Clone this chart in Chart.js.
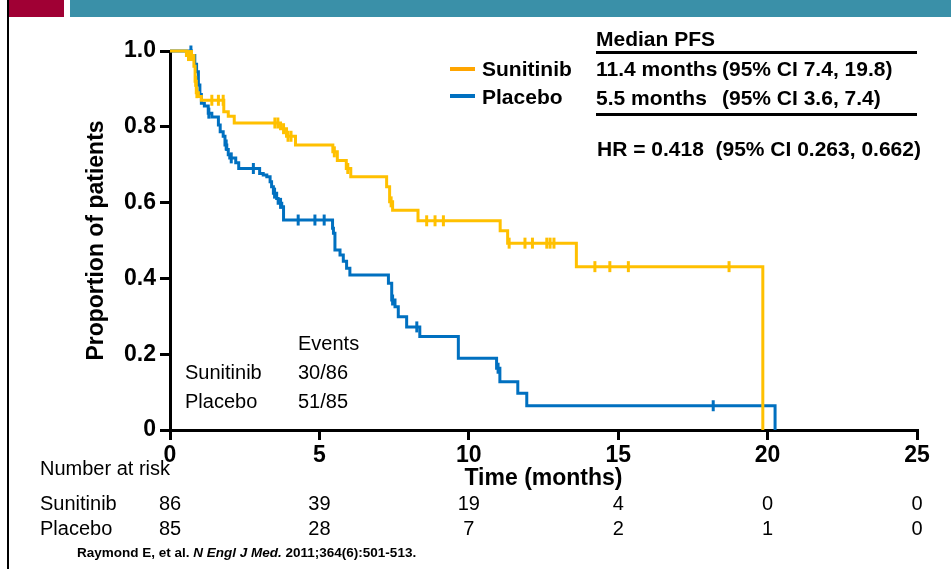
<!DOCTYPE html>
<html><head><meta charset="utf-8">
<script src="https://cdn.jsdelivr.net/npm/chart.js@4.4.0/dist/chart.umd.min.js"></script>
<style>
html,body{margin:0;padding:0;background:#fff;}
#wrap{position:relative;width:951px;height:569px;overflow:hidden;font-family:"Liberation Sans",Arial,sans-serif;color:#000;}
#c{position:absolute;left:0;top:0;}
.t{position:absolute;white-space:nowrap;line-height:1;transform:translateY(-50%);}
.tc{position:absolute;white-space:nowrap;line-height:1;transform:translate(-50%,-50%);}
.b{font-weight:bold;}
</style></head><body>
<div id="wrap">
<div style="position:absolute;left:9px;top:0;width:55px;height:17px;background:#A00034"></div>
<div style="position:absolute;left:70px;top:0;width:881px;height:17px;background:#3A90A8"></div>
<div style="position:absolute;left:7px;top:0;width:2px;height:569px;background:#000"></div>
<canvas id="c" width="951" height="569"></canvas>

<div style="position:absolute;left:450px;top:67px;width:25px;height:4px;background:#FFA500"></div>
<div class="t b" style="left:482px;top:68px;font-size:21px">Sunitinib</div>
<div style="position:absolute;left:450px;top:94px;width:25px;height:4px;background:#0070C0"></div>
<div class="t b" style="left:482px;top:96px;font-size:21px">Placebo</div>

<div class="t b" style="left:596px;top:38px;font-size:21px">Median PFS</div>
<div style="position:absolute;left:596px;top:51px;width:321px;height:3px;background:#000"></div>
<div class="t b" style="left:596px;top:68px;font-size:21px">11.4 months</div>
<div class="t b" style="left:722px;top:68px;font-size:21px">(95% CI 7.4, 19.8)</div>
<div class="t b" style="left:596px;top:97px;font-size:21px">5.5 months</div>
<div class="t b" style="left:722px;top:97px;font-size:21px">(95% CI 3.6, 7.4)</div>
<div style="position:absolute;left:596px;top:113px;width:321px;height:3px;background:#000"></div>
<div class="t b" style="left:597px;top:148px;font-size:21px">HR = 0.418&nbsp;&nbsp;(95% CI 0.263, 0.662)</div>

<div class="t" style="left:298px;top:343px;font-size:20px">Events</div>
<div class="t" style="left:185px;top:372px;font-size:20px">Sunitinib</div>
<div class="t" style="left:298px;top:372px;font-size:20px" id="evS"></div>
<div class="t" style="left:185px;top:401px;font-size:20px">Placebo</div>
<div class="t" style="left:298px;top:401px;font-size:20px" id="evP"></div>

<div class="t" style="left:40px;top:468px;font-size:20px">Number at risk</div>
<div class="t" style="left:40px;top:503px;font-size:20px">Sunitinib</div>
<div class="t" style="left:40px;top:528px;font-size:20px">Placebo</div>
<div id="risk"></div>

<div class="t b" style="left:77px;top:553px;font-size:13.5px">Raymond E, et al. <i>N Engl J Med.</i> 2011;364(6):501-513.</div>
</div>
<script>
// ---- data ----
const sunitinibTimes = [0, 0.55, 0.80, 0.84, 0.88, 0.95, 1.05, 1.8, 1.95, 2.15, 3.7, 3.9, 4.2, 5.45, 5.6, 5.9, 6.05, 7.25, 7.35, 7.45, 8.3, 11.05, 11.3, 13.6, 19.84];
const sunitinibSurv  = [1.0, 0.988, 0.96, 0.92, 0.89, 0.88, 0.87, 0.84, 0.828, 0.81, 0.795, 0.775, 0.752, 0.734, 0.711, 0.69, 0.668, 0.642, 0.602, 0.58, 0.552, 0.526, 0.493, 0.431, 0];
const sunitinibCensor = [0.62, 0.72, 0.86, 0.90, 1.40, 1.62, 1.78, 3.51, 3.61, 3.8, 3.95, 4.05, 5.5, 5.95, 7.4, 8.59, 8.87, 9.15, 11.35, 11.88, 12.13, 12.61, 12.72, 12.85, 14.22, 14.72, 15.34, 18.71];

const placeboTimes = [0, 0.72, 0.83, 0.89, 0.95, 1.0, 1.05, 1.15, 1.28, 1.4, 1.62, 1.68, 1.78, 1.84, 1.90, 1.95, 2.0, 2.2, 2.3, 3.0, 3.12, 3.24, 3.35, 3.40, 3.46, 3.57, 3.62, 3.74, 3.8, 5.44, 5.47, 5.52, 5.69, 5.8, 5.91, 6.02, 7.31, 7.42, 7.53, 7.64, 7.92, 8.36, 9.65, 10.93, 11.04, 11.64, 11.94, 20.25];
const placeboSurv  = [1.0, 0.988, 0.965, 0.945, 0.91, 0.885, 0.862, 0.855, 0.836, 0.826, 0.805, 0.787, 0.775, 0.752, 0.74, 0.726, 0.718, 0.705, 0.69, 0.677, 0.673, 0.668, 0.655, 0.642, 0.625, 0.611, 0.598, 0.589, 0.554, 0.532, 0.519, 0.475, 0.462, 0.445, 0.427, 0.409, 0.387, 0.343, 0.325, 0.299, 0.272, 0.247, 0.189, 0.163, 0.127, 0.097, 0.064, 0];
const placeboCensor = [0.70, 1.3, 1.88, 2.05, 2.79, 3.5, 3.7, 4.29, 4.85, 5.16, 7.45, 8.26, 10.98, 18.18];

const xTicks = [0, 5, 10, 15, 20, 25];
const yTicks = [0, 0.2, 0.4, 0.6, 0.8, 1.0];
const riskTimes = [0, 5, 10, 15, 20, 25];
const riskSunitinib = [86, 39, 19, 4, 0, 0];
const riskPlacebo = [85, 28, 7, 2, 1, 0];
const eventsSunitinib = "30/86";
const eventsPlacebo = "51/85";

const YEL = '#FFC000', BLU = '#0070C0';

function survAt(times, surv, t) {
  let s = surv[0];
  for (let i = 0; i < times.length; i++) { if (times[i] <= t) s = surv[i]; }
  return s;
}
function pts(times, surv) { return times.map((t, i) => ({x: t, y: surv[i]})); }
function cens(c, times, surv) { return c.map(t => ({x: t, y: survAt(times, surv, t)})); }

document.getElementById('evS').textContent = eventsSunitinib;
document.getElementById('evP').textContent = eventsPlacebo;

Chart.defaults.font.family = '"Liberation Sans", Arial, sans-serif';
Chart.defaults.color = '#000';

const chart = new Chart(document.getElementById('c'), {
  type: 'line',
  data: { datasets: [
    {label: 'Sunitinib', data: pts(sunitinibTimes, sunitinibSurv), borderColor: YEL, borderWidth: 3, stepped: true, pointRadius: 0, fill: false, clip: false, order: 1},
    {label: 'Sunitinib censored', type: 'scatter', data: cens(sunitinibCensor, sunitinibTimes, sunitinibSurv), pointStyle: 'line', rotation: 90, pointRadius: 5.5, borderColor: YEL, backgroundColor: YEL, pointBorderWidth: 3, showLine: false, clip: false, order: 0},
    {label: 'Placebo', data: pts(placeboTimes, placeboSurv), borderColor: BLU, borderWidth: 3, stepped: true, pointRadius: 0, fill: false, clip: false, order: 3},
    {label: 'Placebo censored', type: 'scatter', data: cens(placeboCensor, placeboTimes, placeboSurv), pointStyle: 'line', rotation: 90, pointRadius: 5.5, borderColor: BLU, backgroundColor: BLU, pointBorderWidth: 3, showLine: false, clip: false, order: 2}
  ]},
  options: {
    responsive: false, animation: false, devicePixelRatio: 1,
    layout: {padding: {left: 0, right: 34, top: 51, bottom: 77}},
    plugins: {legend: {display: false}, tooltip: {enabled: false}},
    elements: {point: {hoverRadius: 5}},
    scales: {
      x: {
        type: 'linear', min: 0, max: 25,
        afterBuildTicks: s => { s.ticks = xTicks.map(v => ({value: v})); },
        afterFit: s => { s.height = 62; },
        ticks: {font: {size: 23, weight: 'bold'}, padding: 2, maxRotation: 0, callback: v => String(v)},
        grid: {drawOnChartArea: false, drawTicks: true, tickLength: 10, color: '#000', lineWidth: 3},
        border: {color: '#000', width: 3},
        title: {display: true, text: 'Time (months)', font: {size: 23, weight: 'bold'}, padding: {top: 0, bottom: 0}}
      },
      y: {
        type: 'linear', min: 0, max: 1,
        afterBuildTicks: s => { s.ticks = yTicks.map(v => ({value: v})); },
        afterFit: s => { s.width = 170; },
        ticks: {font: {size: 23, weight: 'bold'}, padding: 4, callback: v => v === 0 ? '0' : v.toFixed(1)},
        grid: {drawOnChartArea: false, drawTicks: true, tickLength: 10, color: '#000', lineWidth: 3},
        border: {color: '#000', width: 3},
        title: {display: true, text: 'Proportion of patients', font: {size: 23, weight: 'bold'}, padding: {top: 83, bottom: 0}}
      }
    }
  }
});

const risk = document.getElementById('risk');
riskTimes.forEach((t, i) => {
  const x = chart.scales.x.getPixelForValue(t);
  [[riskSunitinib[i], 503], [riskPlacebo[i], 528]].forEach(([v, y]) => {
    const d = document.createElement('div');
    d.className = 'tc';
    d.style.left = x + 'px'; d.style.top = y + 'px'; d.style.fontSize = '20px';
    d.textContent = v;
    risk.appendChild(d);
  });
});
</script>
</body></html>
